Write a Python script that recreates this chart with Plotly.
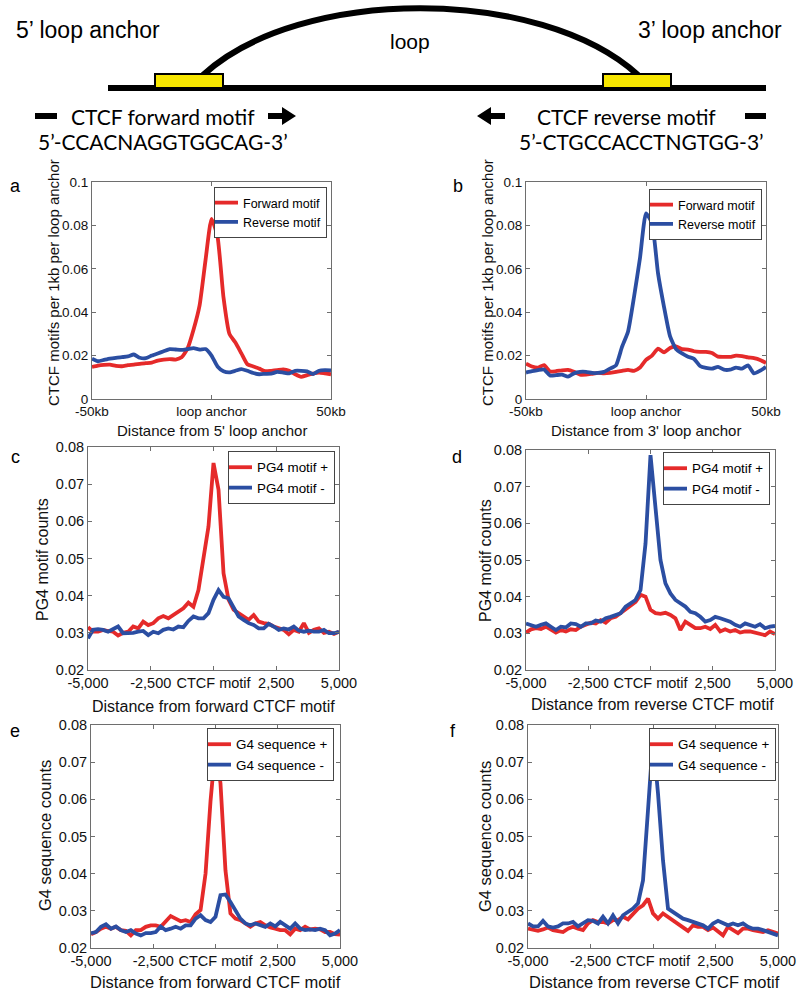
import plotly.graph_objects as go

W, H = 800, 991

def px(x):
    return x / W

def py(y):
    return 1 - y / H

RED = "#e52a2a"
BLUE = "#2b4ea2"
AXC = "#6e6e6e"
FONT = "Liberation Sans, Arial, sans-serif"

# ---------------- data ----------------
x_kb = [v / 10 for v in range(-500, 501, 25)]
x_bp = list(range(-5000, 5001, 200))

a_forward = [.0148, .0154, .0157, .0158, .0153, .0151, .0156, .0158, .0162, .0165, .0168,
             .0177, .0182, .0184, .0182, .0192, .0233, .032, .043, .064, .083, .075, .047,
             .030, .026, .021, .016, .0150, .0140, .0128, .013, .0133, .0136, .013, .0114,
             .0102, .011, .0117, .0122, .0118, .0114]
a_reverse = [.0186, .0174, .018, .0186, .019, .0193, .0196, .0205, .019, .0188, .020, .021,
             .022, .023, .0228, .0226, .023, .0234, .0228, .023, .020, .015, .0128, .0123,
             .013, .0138, .013, .012, .0114, .0116, .0117, .0125, .0122, .0118, .013, .013,
             .0127, .0115, .013, .0133, .0132]
b_forward = [.0163, .015, .0145, .0156, .0127, .0128, .0132, .0134, .0125, .0112, .0112,
             .0116, .012, .0118, .012, .0125, .013, .0134, .013, .0145, .018, .020, .0232,
             .0215, .0235, .0243, .023, .0228, .022, .0217, .0217, .0212, .0195, .0194, .0194,
             .020, .0198, .0192, .0188, .018, .0166]
b_reverse = [.0122, .0128, .0133, .0136, .0108, .011, .0112, .0103, .0118, .0125, .0125,
             .012, .012, .0125, .014, .0155, .024, .031, .047, .065, .0855, .081, .058, .0425,
             .029, .023, .021, .0195, .0185, .0152, .0143, .014, .0148, .0135, .0135, .0145,
             .014, .0155, .0118, .013, .0148]

c_plus = [.0315, .0303, .0303, .0308, .0305, .0303, .0293, .030, .0303, .0317, .0312, .033,
          .0321, .0326, .0339, .0345, .0339, .0348, .0355, .0366, .0381, .0370, .0415, .0496,
          .0586, .0757, .0685, .046, .0389, .0362, .0353, .0344, .0335, .0348, .033, .0326,
          .0324, .0317, .0312, .0308, .0296, .0308, .0303, .0326, .030, .0308, .0312, .030,
          .0303, .0297, .0303]
c_minus = [.0285, .0308, .031, .0308, .0303, .0309, .0317, .0299, .0299, .030, .0303, .0305,
           .0294, .0303, .0299, .0308, .0312, .0309, .0317, .0315, .0332, .0344, .0339, .0339,
           .0353, .0389, .0415, .0397, .0393, .0370, .0344, .0335, .0326, .0321, .0312, .0312,
           .0324, .0317, .0308, .0312, .0309, .0317, .0306, .0303, .0306, .0303, .0303, .0308,
           .0299, .0299, .0303]
d_plus = [.0302, .0311, .0314, .0312, .0318, .0309, .0302, .0309, .0305, .0311, .0309, .0318,
          .0323, .0329, .0327, .0336, .0329, .0341, .0345, .0355, .0368, .0377, .0386, .0405,
          .040, .0364, .0355, .0353, .0356, .035, .0341, .0309, .0332, .0323, .0314, .0314,
          .0318, .0312, .0323, .0305, .0311, .0305, .0309, .0302, .0305, .0305, .0302, .030,
          .0295, .0305, .0298]
d_minus = [.0327, .0323, .0318, .0323, .0327, .0318, .0309, .0318, .0316, .0327, .0325, .0318,
           .0327, .0327, .0335, .0332, .0341, .0345, .035, .0355, .0373, .0382, .0391, .0418,
           .0545, .0786, .0636, .050, .0436, .0409, .0391, .0382, .0373, .0359, .0355, .0345,
           .0332, .0336, .0345, .0341, .0336, .0332, .0323, .0318, .0327, .0323, .0318, .0325,
           .0314, .0318, .032]
e_plus = [.0237, .0243, .0252, .0257, .0252, .0257, .0248, .0246, .0234, .0248, .0248, .0257,
          .0261, .0261, .0257, .027, .0286, .0279, .0272, .0275, .027, .0291, .0302, .040,
          .0595, .0743, .0643, .0409, .0293, .0279, .0275, .0266, .0257, .0266, .027, .0261,
          .0255, .0252, .0248, .0248, .0237, .0252, .0248, .0257, .025, .0252, .025, .0243,
          .0243, .0237, .0236]
e_minus = [.024, .0243, .0257, .0264, .0252, .0258, .0248, .0243, .0248, .0239, .0234, .024,
           .024, .0243, .0258, .0248, .0252, .0257, .0252, .0261, .0261, .0279, .0288, .0275,
           .027, .0284, .0342, .0344, .0324, .0302, .0279, .0266, .0261, .0266, .0261, .0257,
           .0266, .0258, .027, .0261, .0252, .0266, .0252, .0248, .025, .0248, .0252, .0248,
           .0234, .0239, .0248]
f_plus = [.0252, .0248, .0246, .025, .0255, .0248, .0246, .0243, .0252, .0257, .0252, .0248,
          .0266, .0275, .027, .027, .0266, .0275, .0275, .0284, .0277, .0293, .0306, .0315,
          .0333, .0293, .0279, .0293, .0284, .0275, .0266, .0257, .0246, .0261, .0257, .0257,
          .0248, .0255, .0243, .0234, .0257, .0248, .024, .0252, .0252, .0248, .0246, .0243,
          .0248, .0243, .0239]
f_minus = [.0266, .0258, .0258, .0273, .0258, .0255, .0258, .0266, .0266, .027, .0258, .0266,
           .0275, .0273, .0266, .0284, .0266, .0288, .0266, .0288, .0297, .0306, .032, .0382,
           .0571, .0764, .0616, .0436, .0306, .0297, .0291, .0279, .0275, .027, .0266, .0261,
           .0252, .0266, .0273, .0266, .0261, .0266, .0261, .0266, .0257, .0252, .0252, .0248,
           .0243, .024, .0234]

kb_tickvals = [-50, 0, 50]
kb_ticktext = ["-50kb", "loop anchor", "50kb"]
bp_tickvals = [-5000, -2500, 0, 2500, 5000]
bp_ticktext = ["-5,000", "-2,500", "CTCF motif", "2,500", "5,000"]

panels = [
    dict(x=x_kb, s=[("Forward motif", a_forward, RED), ("Reverse motif", a_reverse, BLUE)],
         dom=(92, 331, 182, 399), yr=[0, 0.1], dt=0.02, kb=True, tfs=13.5, afs=15,
         xt="Distance from 5' loop anchor", yt="CTCF motifs per 1kb per loop anchor",
         xtpos=(212, 430), ytpos=(54, 283), letter=("a", 15, 186),
         leg=(327, 187), lfs=12.5),
    dict(x=x_kb, s=[("Forward motif", b_forward, RED), ("Reverse motif", b_reverse, BLUE)],
         dom=(526, 766, 182, 399), yr=[0, 0.1], dt=0.02, kb=True, tfs=13.5, afs=15,
         xt="Distance from 3' loop anchor", yt="CTCF motifs per 1kb per loop anchor",
         xtpos=(646, 430), ytpos=(488, 283), letter=("b", 458, 186),
         leg=(762, 189), lfs=12.5),
    dict(x=x_bp, s=[("PG4 motif +", c_plus, RED), ("PG4 motif -", c_minus, BLUE)],
         dom=(88, 339, 447, 670), yr=[0.02, 0.08], dt=0.01, kb=False, tfs=14.5, afs=16,
         xt="Distance from forward CTCF motif", yt="PG4 motif counts",
         xtpos=(213, 706), ytpos=(42, 560), letter=("c", 15, 457),
         leg=(335, 451), lfs=13.4),
    dict(x=x_bp, s=[("PG4 motif +", d_plus, RED), ("PG4 motif -", d_minus, BLUE)],
         dom=(526, 775, 450, 670), yr=[0.02, 0.08], dt=0.01, kb=False, tfs=14.5, afs=16,
         xt="Distance from reverse CTCF motif", yt="PG4 motif counts",
         xtpos=(652, 704), ytpos=(485, 560), letter=("d", 457, 457),
         leg=(770, 452), lfs=13.4),
    dict(x=x_bp, s=[("G4 sequence +", e_plus, RED), ("G4 sequence -", e_minus, BLUE)],
         dom=(91, 340, 725, 948), yr=[0.02, 0.08], dt=0.01, kb=False, tfs=14.5, afs=16.5,
         xt="Distance from forward CTCF motif", yt="G4 sequence counts",
         xtpos=(215, 982), ytpos=(45, 836), letter=("e", 15, 731),
         leg=(334, 728), lfs=13.4),
    dict(x=x_bp, s=[("G4 sequence +", f_plus, RED), ("G4 sequence -", f_minus, BLUE)],
         dom=(528, 778, 725, 948), yr=[0.02, 0.08], dt=0.01, kb=False, tfs=14.5, afs=16.5,
         xt="Distance from reverse CTCF motif", yt="G4 sequence counts",
         xtpos=(654, 982), ytpos=(485, 836), letter=("f", 453, 731),
         leg=(776, 728), lfs=13.4),
]

fig = go.Figure()
layout = dict(
    width=W, height=H,
    margin=dict(l=0, r=0, t=0, b=0, pad=0, autoexpand=False),
    paper_bgcolor="white", plot_bgcolor="white",
    font=dict(family=FONT, color="black", size=15),
    showlegend=True,
)
annotations = []
shapes = []

for i, p in enumerate(panels):
    n = i + 1
    sfx = "" if n == 1 else str(n)
    legname = "legend" if n == 1 else f"legend{n}"
    for name, y, col in p["s"]:
        line = dict(color=col, width=3.8)
        if p["kb"]:
            line.update(shape="spline", smoothing=0.5)
        fig.add_trace(go.Scatter(
            x=p["x"], y=y, mode="lines", name=name, line=line,
            xaxis="x" + sfx, yaxis="y" + sfx, legend=legname,
        ))
    x0, x1, y0, y1 = p["dom"]
    tf = dict(size=p["tfs"], family=FONT, color="#111")
    ax = dict(domain=[px(x0), px(x1)], anchor="y" + sfx, automargin=False,
              showline=True, linecolor=AXC, linewidth=1, mirror="allticks",
              ticks="inside", ticklen=4, tickcolor=AXC, showgrid=False, zeroline=False,
              tickangle=0, tickfont=tf)
    if p["kb"]:
        ax.update(range=[-50, 50], tickvals=kb_tickvals, ticktext=kb_ticktext)
    else:
        ax.update(range=[-5000, 5000], tickvals=bp_tickvals, ticktext=bp_ticktext)
    ay = dict(domain=[py(y1), py(y0)], anchor="x" + sfx, range=p["yr"], dtick=p["dt"],
              tick0=0, automargin=False,
              showline=True, linecolor=AXC, linewidth=1, mirror="allticks",
              ticks="inside", ticklen=4, tickcolor=AXC, showgrid=False, zeroline=False,
              tickfont=tf)
    layout["xaxis" + sfx] = ax
    layout["yaxis" + sfx] = ay
    lx, ly = p["leg"]
    layout[legname] = dict(x=px(lx), y=py(ly), xanchor="right", yanchor="top",
                           xref="paper", yref="paper",
                           bgcolor="white", bordercolor="#444", borderwidth=1,
                           font=dict(size=p["lfs"], family=FONT, color="black"),
                           itemwidth=30, tracegroupgap=0, indentation=-12)
    annotations.append(dict(text=p["xt"], x=px(p["xtpos"][0]), y=py(p["xtpos"][1]),
                            xref="paper", yref="paper", showarrow=False,
                            xanchor="center", yanchor="middle",
                            font=dict(size=p["afs"], color="#111")))
    annotations.append(dict(text=p["yt"], x=px(p["ytpos"][0]), y=py(p["ytpos"][1]),
                            xref="paper", yref="paper", showarrow=False, textangle=-90,
                            xanchor="center", yanchor="middle",
                            font=dict(size=p["afs"], color="#111")))
    let, lxp, lyp = p["letter"]
    annotations.append(dict(text=let, x=px(lxp), y=py(lyp), xref="paper", yref="paper",
                            showarrow=False, xanchor="center", yanchor="middle",
                            font=dict(size=18)))

# ---------------- top diagram ----------------
def P(x, y):
    return f"{px(x):.5f},{py(y):.5f}"

shapes.append(dict(type="path", xref="paper", yref="paper",
                   path=f"M{P(203, 75)} C{P(300, -14)} {P(540, -14)} {P(638, 75)}",
                   line=dict(color="black", width=6)))
shapes.append(dict(type="rect", xref="paper", yref="paper",
                   x0=px(108), x1=px(766), y0=py(91), y1=py(85),
                   fillcolor="black", line=dict(width=0)))
for bx0, bx1 in [(155, 223), (603, 671)]:
    shapes.append(dict(type="rect", xref="paper", yref="paper",
                       x0=px(bx0), x1=px(bx1), y0=py(88), y1=py(74),
                       fillcolor="#f7e600", line=dict(color="black", width=2)))
for bx0, bx1 in [(35, 57), (745, 766)]:
    shapes.append(dict(type="rect", xref="paper", yref="paper",
                       x0=px(bx0), x1=px(bx1), y0=py(119), y1=py(113),
                       fillcolor="black", line=dict(width=0)))
shapes.append(dict(type="path", xref="paper", yref="paper",
                   path=f"M{P(268,113)} L{P(282,113)} L{P(282,107)} L{P(296,116)} "
                        f"L{P(282,125)} L{P(282,119)} L{P(268,119)} Z",
                   fillcolor="black", line=dict(width=0)))
shapes.append(dict(type="path", xref="paper", yref="paper",
                   path=f"M{P(505,113)} L{P(491,113)} L{P(491,107)} L{P(477,116)} "
                        f"L{P(491,125)} L{P(491,119)} L{P(505,119)} Z",
                   fillcolor="black", line=dict(width=0)))

DFONT = "Lato, Open Sans, sans-serif"
diagram_text = [
    ("5\u2019 loop anchor", 88, 30, FONT, 23),
    ("loop", 410, 42, FONT, 21),
    ("3\u2019 loop anchor", 710, 30, FONT, 23),
    ("CTCF forward motif", 163, 116, DFONT, 21),
    ("5\u2019-CCACNAGGTGGCAG-3\u2019", 163, 141, DFONT, 21),
    ("CTCF reverse motif", 626, 116, DFONT, 21),
    ("5\u2019-CTGCCACCTNGTGG-3\u2019", 641, 141, DFONT, 21),
]
for t, x, y, fam, fs in diagram_text:
    annotations.append(dict(text=t, x=px(x), y=py(y), xref="paper", yref="paper",
                            showarrow=False, xanchor="center", yanchor="middle",
                            font=dict(size=fs, family=fam, color="black")))

layout["annotations"] = annotations
layout["shapes"] = shapes
fig.update_layout(**layout)
fig.write_html("out.html", config={"displayModeBar": False},
               post_script="document.body.style.margin='0px';document.body.style.padding='0px';")
